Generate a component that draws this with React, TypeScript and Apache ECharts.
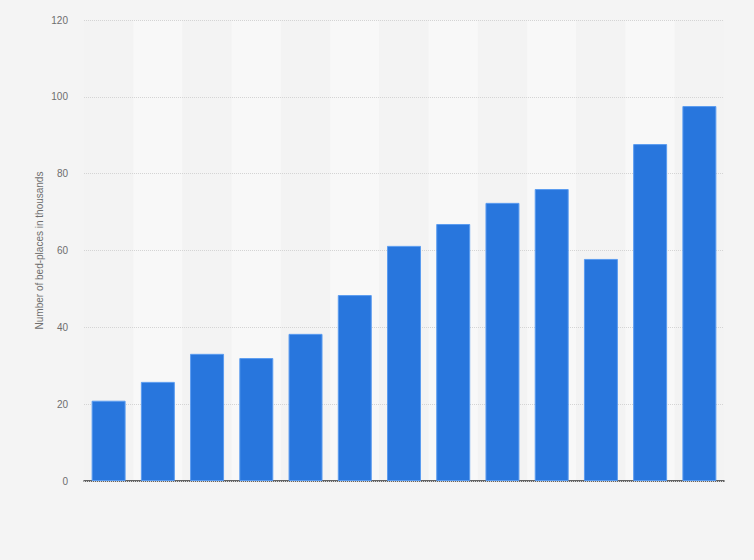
import React, { useRef, useEffect } from 'react';
import * as echarts from 'echarts';

const years = ['2010', '2011', '2012', '2013', '2014', '2015', '2016', '2017', '2018', '2019', '2020', '2021', '2022'];
const bedPlaces = [20.9, 25.8, 33.1, 32.0, 38.3, 48.4, 61.2, 66.9, 72.4, 76.0, 57.8, 87.7, 97.6];
const yTicks = { min: 0, max: 120, interval: 20 };

const App: React.FC = () => {
  const chartRef = useRef<HTMLDivElement>(null);

  useEffect(() => {
    if (!chartRef.current) return;
    const chart = echarts.init(chartRef.current, undefined, { renderer: 'svg' });
    chart.setOption({
      animation: false,
      backgroundColor: '#f4f4f4',
      textStyle: { fontFamily: 'Arial, "Liberation Sans", sans-serif' },
      grid: { left: 84, right: 30, top: 20, bottom: 79 },
      xAxis: {
        type: 'category',
        data: years,
        z: 0,
        axisTick: { show: false },
        axisLabel: { show: false },
        axisLine: { lineStyle: { color: '#333', width: 1.5 } },
        splitArea: { show: true, areaStyle: { color: ['#f3f3f3', '#f8f8f8'] } },
      },
      yAxis: {
        type: 'value',
        z: 3,
        min: yTicks.min,
        max: yTicks.max,
        interval: yTicks.interval,
        name: 'Number of bed-places in thousands',
        nameLocation: 'middle',
        nameGap: 40,
        nameMoveOverlap: false,
        nameTextStyle: { color: '#6e6e6e', fontSize: 10 },
        axisLabel: { color: '#6e6e6e', fontSize: 10, margin: 16 },
        axisLine: { show: false },
        axisTick: { show: false },
        splitLine: { lineStyle: { color: '#d4d4d4', type: [1, 1], width: 1 } },
      },
      series: [
        {
          type: 'bar',
          z: 4,
          data: bedPlaces,
          barCategoryGap: '31%',
          itemStyle: { color: '#2876dd', borderColor: '#5b9cf0', borderWidth: 1 },
        },
      ],
    });
    return () => {
      chart.dispose();
    };
  }, []);

  return (
    <div
      ref={chartRef}
      style={{ position: 'fixed', left: 0, top: 0, width: 754, height: 560 }}
    />
  );
};

export default App;
